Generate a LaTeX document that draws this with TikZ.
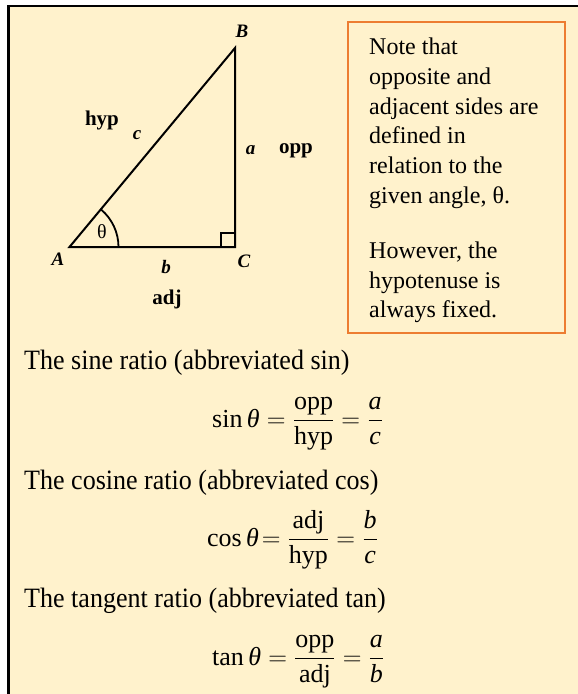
\RequirePackage{fix-cm}
\documentclass[tikz,border=0pt]{standalone}
\usepackage{amsmath}
\usepackage{fontspec}
\setmainfont{Liberation Serif}
\newfontfamily\bodyfont[FakeStretch=0.93]{Liberation Serif}
\usetikzlibrary{calc}
\definecolor{cream}{HTML}{FFF2CC}
\definecolor{noteorange}{HTML}{ED7D31}
\begin{document}
\begin{tikzpicture}[x=1pt,y=-1pt,
  lbl/.style={font=\fontsize{19}{22}\selectfont\bfseries\itshape, inner sep=0},
  word/.style={font=\fontsize{21}{24}\selectfont\bfseries, inner sep=0},
  body/.style={font=\bodyfont\fontsize{28}{32}\selectfont, inner sep=0, anchor=base west},
  eqn/.style={font=\fontsize{26}{30}\selectfont, inner sep=0, anchor=base west},
  edge/.style={line width=2pt, line join=miter},
]
\useasboundingbox (0,0) rectangle (578,694);
\fill[white] (0,0) rectangle (578,694);
\fill[cream] (8.7,6) rectangle (578,694);
\draw[line width=2.5pt] (8.7,694) -- (8.7,6) -- (578,6);

% triangle
\coordinate (vA) at (69.5,247);
\coordinate (vB) at (235,48);
\coordinate (vC) at (235,247);
\draw[edge] (vA) -- (vC) -- (vB) -- cycle;
\draw[line width=1.6pt] ($(vC)+(-14,0)$) -- ($(vC)+(-14,-14)$) -- ($(vC)+(0,-14)$);
\draw[line width=1.8pt] ($(vA)+(49,0)$) arc[start angle=0, end angle=50.2, radius=49pt];

\node[lbl] (lB) at (242,31) {B};
\node[lbl] (lA) at (58,259) {A};
\node[lbl] (lC) at (244,261) {C};
\node[lbl] (lb) at (166,267) {b};
\node[lbl] (lc) at (137,135) {c};
\node[lbl] (la) at (250.5,150) {a};
\node[word] (adj) at (167,299) {adj};
\node[word] (hyp) at (102,120) {hyp};
\node[word] (opp) at (296,151) {opp};
\node[font=\fontsize{20}{22}\selectfont, inner sep=0] (th) at (102,232) {θ};

% note box
\node[draw=noteorange, line width=2.5pt, fill=cream, minimum width=217pt, minimum height=311pt, inner sep=0] (notebox) at (456.5,177.5) {};
\node[font=\fontsize{24}{29.8}\selectfont, align=left, anchor=north west, inner sep=0] (note) at (369,37.6)
  {Note that\\opposite and\\adjacent sides are\\defined in\\relation to the\\given angle, θ.\\[25pt]However, the\\hypotenuse is\\always fixed.};

% ratios
\node[body] (sint) at (24,369) {The sine ratio (abbreviated sin)};
\node[eqn] (sineq) at (212,427) {$\textrm{sin}\,\textit{θ} = \dfrac{\textrm{opp}}{\textrm{hyp}} = \dfrac{\textit{a}}{\textit{c}}$};
\node[body] (cost) at (24,489) {The cosine ratio (abbreviated cos)};
\node[eqn] (coseq) at (207,546) {$\textrm{cos}\,\textit{θ}\!= \dfrac{\textrm{adj}}{\textrm{hyp}} = \dfrac{\textit{b}}{\textit{c}}$};
\node[body] (tant) at (24,607) {The tangent ratio (abbreviated tan)};
\node[eqn] (taneq) at (212,665) {$\textrm{tan}\,\textit{θ} = \dfrac{\textrm{opp}}{\textrm{adj}} = \dfrac{\textit{a}}{\textit{b}}$};
\end{tikzpicture}
\end{document}
